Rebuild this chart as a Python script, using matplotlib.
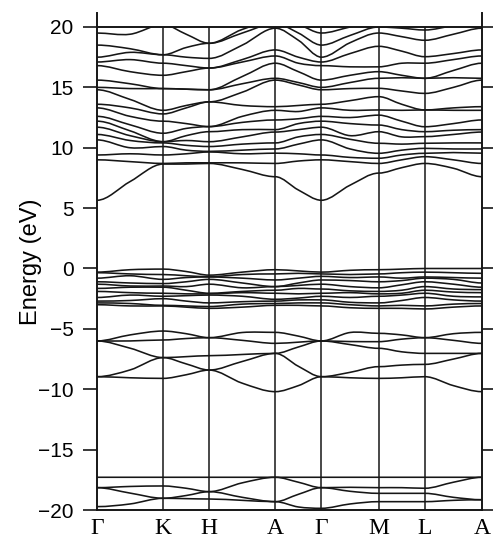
import matplotlib.pyplot as plt
from matplotlib.path import Path
from matplotlib.patches import PathPatch, Rectangle

# high symmetry points along the path
kpoint_labels = ["Γ", "K", "H", "A", "Γ", "M", "L", "A"]
# segment lengths: Γ-K = 1, steps along c = 0.697, Γ-M = L-A = 0.866
segment_lengths = [1.0, 0.697, 1.0, 0.697, 0.866, 0.697, 0.866]

# energies (eV) read at Γ, mid, K, mid, H, mid, A, mid, Γ, mid, M, mid, L, mid, A
low_bands = [
    [-17.29, -17.29, -17.29, -17.29, -17.29, -17.29, -17.29, -17.29, -17.29, -17.29, -17.29, -17.29, -17.29, -17.29, -17.29],
    [-18.15, -18.05, -18.01, -18.2, -18.48, -17.75, -17.29, -17.7, -18.15, -18.12, -18.15, -18.15, -18.2, -17.7, -17.29],
    [-18.15, -18.6, -19.03, -18.8, -18.48, -18.95, -19.31, -18.7, -18.15, -18.45, -18.62, -18.62, -18.62, -18.95, -19.15],
    [-19.72, -19.5, -19.03, -19.06, -19.09, -19.2, -19.31, -19.75, -19.86, -19.5, -19.31, -19.31, -19.31, -19.2, -19.15],
]

mid_bands = [
    [-6.0, -5.5, -5.18, -5.4, -5.73, -5.3, -5.29, -5.6, -6.0, -5.3, -5.37, -5.5, -5.73, -5.4, -5.29],
    [-6.0, -6.0, -5.92, -5.8, -5.73, -5.95, -6.2, -6.1, -6.0, -6.05, -6.06, -5.85, -5.73, -5.95, -6.2],
    [-6.0, -6.6, -7.38, -7.3, -7.22, -7.12, -7.03, -6.5, -6.0, -6.3, -6.61, -6.9, -7.03, -7.03, -7.03],
    [-8.96, -8.4, -7.38, -7.9, -8.41, -7.7, -7.03, -8.1, -8.96, -8.6, -8.13, -8.0, -7.94, -7.5, -7.03],
    [-8.96, -9.05, -9.1, -8.8, -8.41, -9.5, -10.2, -9.7, -8.96, -9.05, -9.1, -9.05, -8.96, -9.7, -10.2],
]

valence_bands = [
    [-0.3, -0.1, -0.05, -0.25, -0.55, -0.3, -0.1, -0.2, -0.3, -0.15, -0.1, -0.05, 0.0, 0.0, 0.0],
    [-0.35, -0.45, -0.5, -0.6, -0.68, -0.5, -0.45, -0.4, -0.45, -0.5, -0.45, -0.35, -0.3, -0.35, -0.4],
    [-0.8, -0.6, -0.9, -0.75, -0.7, -0.8, -0.95, -0.8, -0.65, -0.75, -0.7, -0.8, -0.7, -0.75, -0.8],
    [-1.1, -1.2, -1.25, -1.1, -0.9, -1.2, -1.5, -1.2, -0.95, -1.0, -1.1, -1.0, -0.8, -0.9, -1.2],
    [-1.3, -1.45, -1.45, -1.5, -1.3, -1.6, -1.5, -1.4, -1.3, -1.5, -1.6, -1.35, -1.1, -1.3, -1.55],
    [-1.65, -1.55, -1.55, -1.8, -2.05, -1.9, -1.8, -1.65, -1.7, -1.85, -1.9, -1.8, -1.5, -1.7, -1.75],
    [-1.9, -2.0, -2.05, -2.1, -2.1, -2.0, -2.05, -2.1, -2.05, -2.0, -2.1, -2.05, -1.8, -1.95, -2.0],
    [-2.4, -2.2, -2.3, -2.25, -2.2, -2.3, -2.55, -2.45, -2.3, -2.4, -2.3, -2.2, -2.05, -2.3, -2.35],
    [-2.7, -2.65, -2.5, -2.7, -2.85, -2.75, -2.7, -2.6, -2.6, -2.8, -2.85, -2.65, -2.4, -2.6, -2.7],
    [-2.85, -2.9, -3.05, -3.1, -3.15, -2.95, -2.9, -2.85, -2.85, -3.0, -3.1, -3.05, -3.1, -2.95, -2.9],
    [-3.0, -3.1, -3.1, -3.2, -3.3, -3.2, -3.05, -3.05, -3.1, -3.25, -3.3, -3.3, -3.35, -3.2, -3.1],
]

conduction_bands = [
    [5.65, 7.2, 8.65, 8.65, 8.7, 8.2, 7.6, 6.5, 5.65, 6.9, 7.9, 8.35, 8.7, 8.3, 7.6],
    [9.0, 8.85, 8.7, 8.75, 8.75, 8.75, 8.7, 8.9, 9.0, 8.85, 8.7, 9.0, 9.26, 9.0, 8.7],
    [9.4, 9.5, 9.4, 9.5, 9.65, 9.5, 9.55, 9.5, 9.4, 9.2, 9.13, 9.4, 9.54, 9.6, 9.55],
    [10.65, 10.0, 10.1, 9.8, 9.7, 9.8, 9.9, 10.3, 10.65, 9.9, 9.54, 9.8, 9.95, 9.9, 9.9],
    [11.1, 10.6, 10.4, 10.2, 10.1, 10.3, 10.4, 10.9, 11.1, 10.7, 10.37, 10.3, 10.37, 10.4, 10.4],
    [11.7, 11.0, 10.5, 10.6, 10.5, 10.9, 11.3, 11.5, 11.7, 11.0, 11.33, 10.9, 10.92, 11.1, 11.3],
    [12.2, 11.4, 10.5, 11.0, 11.33, 11.5, 11.5, 12.0, 12.2, 12.0, 11.88, 11.5, 11.33, 11.45, 11.5],
    [12.6, 11.9, 11.2, 11.6, 11.75, 12.1, 12.3, 12.4, 12.6, 12.5, 12.7, 12.2, 11.74, 12.0, 12.3],
    [13.3, 12.6, 12.2, 12.0, 11.75, 12.6, 13.1, 13.0, 13.3, 13.1, 13.13, 13.1, 13.13, 13.1, 13.1],
    [13.6, 13.3, 12.8, 13.3, 13.8, 13.5, 13.4, 13.5, 13.6, 13.9, 14.23, 13.6, 13.13, 13.3, 13.4],
    [14.8, 14.0, 13.1, 13.5, 13.8, 14.6, 15.6, 15.2, 14.8, 14.9, 14.92, 14.7, 14.5, 15.0, 15.6],
    [15.0, 14.9, 14.9, 14.85, 14.8, 15.3, 15.75, 15.4, 15.0, 15.4, 15.75, 15.8, 15.75, 15.8, 15.75],
    [15.6, 15.3, 14.9, 14.85, 14.8, 15.9, 17.0, 16.3, 15.6, 16.0, 16.3, 16.0, 15.75, 16.4, 17.0],
    [16.8, 16.3, 16.0, 16.3, 16.6, 17.1, 17.6, 17.0, 16.8, 16.7, 16.7, 17.0, 17.0, 17.3, 17.6],
    [17.1, 17.3, 17.0, 16.8, 16.6, 17.3, 18.1, 17.5, 17.1, 17.8, 18.4, 18.0, 17.54, 17.8, 18.1],
    [17.5, 17.9, 17.7, 17.5, 17.4, 18.5, 19.9, 18.9, 17.5, 18.7, 19.5, 19.2, 18.9, 19.4, 19.9],
    [18.5, 18.2, 17.7, 18.3, 18.65, 19.5, 20.3, 19.5, 18.5, 19.3, 20.0, 19.9, 19.75, 20.1, 20.3],
    [19.5, 19.4, 20.2, 19.4, 18.65, 19.8, 20.5, 20.2, 19.5, 20.0, 20.5, 20.5, 20.5, 20.5, 20.5],
]


def band_path(xs, ys):
    # smooth curve through the read values, flat at the symmetry points
    slopes = []
    for i in range(len(xs)):
        if i % 2 == 0:
            slopes.append(0.0)
        else:
            slopes.append((ys[i + 1] - ys[i - 1]) / (xs[i + 1] - xs[i - 1]))
    verts = [(xs[0], ys[0])]
    codes = [Path.MOVETO]
    for i in range(len(xs) - 1):
        h = xs[i + 1] - xs[i]
        verts += [
            (xs[i] + h / 3, ys[i] + slopes[i] * h / 3),
            (xs[i + 1] - h / 3, ys[i + 1] - slopes[i + 1] * h / 3),
            (xs[i + 1], ys[i + 1]),
        ]
        codes += [Path.CURVE4] * 3
    return Path(verts, codes)


# k positions of symmetry points and midpoints
hs_x = [0.0]
for s in segment_lengths:
    hs_x.append(hs_x[-1] + s)
k_x = []
for i in range(len(segment_lengths)):
    k_x += [hs_x[i], (hs_x[i] + hs_x[i + 1]) / 2]
k_x.append(hs_x[-1])

# plot
fig = plt.figure(figsize=(4.93, 5.41), dpi=100)
ax = fig.add_axes([0.1968, 0.0573, 0.781, 0.9187])

clip = Rectangle((0, -20), hs_x[-1], 40, transform=ax.transData)
line_color = "#161616"
for band in low_bands + mid_bands + valence_bands + conduction_bands:
    patch = PathPatch(band_path(k_x, band), facecolor="none",
                      edgecolor=line_color, linewidth=1.15)
    ax.add_patch(patch)
    patch.set_clip_path(clip)

# frame
ax.vlines(hs_x[1:-1], -20, 20, color=line_color, linewidth=1.1)
ax.axhline(20, color=line_color, linewidth=1.4)
ax.set_xlim(0, hs_x[-1])
ax.set_ylim(-20, 21.16)
ax.spines["top"].set_visible(False)
for side in ["left", "right", "bottom"]:
    ax.spines[side].set_linewidth(1.4)
    ax.spines[side].set_color(line_color)

# ticks
ax.set_yticks(range(-20, 21, 5))
ax.tick_params(axis="y", direction="out", length=10, width=1.2,
               labelsize=15, pad=7, right=True, color=line_color)
for lab in ax.get_yticklabels():
    lab.set_family("Liberation Sans")
ax.set_xticks(hs_x)
ax.set_xticklabels(kpoint_labels, fontsize=17, family="Liberation Serif")
ax.tick_params(axis="x", length=0, pad=6)

# ylabel
ax.set_ylabel("Energy (eV)", fontsize=17, family="Liberation Sans")
ax.yaxis.set_label_coords(-0.143, 0.5)

plt.savefig("out.png", dpi=100)
